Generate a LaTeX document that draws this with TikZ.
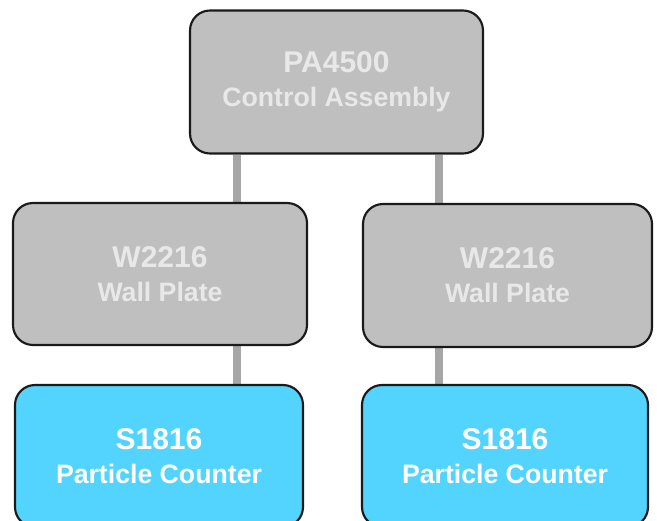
\documentclass[tikz,border=0pt]{standalone}
\usepackage{fontspec}
\setmainfont{Liberation Sans}
\usetikzlibrary{backgrounds}
\definecolor{boxgray}{HTML}{BFBFBF}
\definecolor{txtgray}{HTML}{E8E8E8}
\definecolor{boxcyan}{HTML}{52D4FF}
\definecolor{conngray}{HTML}{A6A6A6}
\definecolor{edge}{HTML}{1A1A1A}
\newcommand{\bigline}[1]{{\fontsize{22.5pt}{25.5pt}\selectfont #1}}
\tikzset{
  px/.style={x=0.75pt,y=-0.75pt},
  box/.style={draw=edge, line width=1.6pt, rounded corners=15pt, align=center,
    font=\bfseries\fontsize{20pt}{25.5pt}\selectfont, inner sep=0pt},
  graybox/.style={box, fill=boxgray, text=txtgray},
  cyanbox/.style={box, fill=boxcyan, text=white},
  conn/.style={draw=conngray, line width=6pt}
}
\begin{document}
\begin{tikzpicture}[px]
\useasboundingbox (0,0) rectangle (657,521);
\node[graybox, minimum width=219.75pt, minimum height=107.25pt] (top) at (336.5,82) {\bigline{PA4500}\\Control Assembly};
\node[graybox, minimum width=220.5pt, minimum height=106.5pt] (lwp) at (160,274) {\bigline{W2216}\\Wall Plate};
\node[graybox, minimum width=216.75pt, minimum height=107.25pt] (rwp) at (507.5,275.5) {\bigline{W2216}\\Wall Plate};
\node[cyanbox, minimum width=216pt, minimum height=106.5pt] (lpc) at (159,456) {\bigline{S1816}\\Particle Counter};
\node[cyanbox, minimum width=214.5pt, minimum height=106.5pt] (rpc) at (505,456) {\bigline{S1816}\\Particle Counter};
\coordinate (la) at ([xshift=36pt]top.south west);
\coordinate (ra) at ([xshift=-33.75pt]top.south east);
\begin{scope}[on background layer]
\draw[conn] (la) -- (la |- lwp.north);
\draw[conn] (ra) -- (ra |- rwp.north);
\draw[conn] (la |- lwp.south) -- (la |- lpc.north);
\draw[conn] (ra |- rwp.south) -- (ra |- rpc.north);
\end{scope}
\end{tikzpicture}
\end{document}
